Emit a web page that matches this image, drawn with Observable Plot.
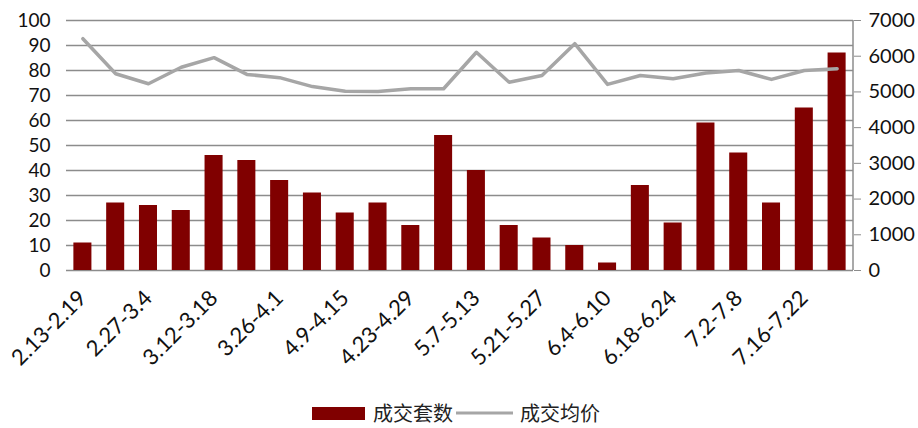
<!DOCTYPE html>
<html><head><meta charset="utf-8">
<script src="https://cdn.jsdelivr.net/npm/d3@7"></script>
<script src="https://cdn.jsdelivr.net/npm/@observablehq/plot@0.6"></script>
<style>
body{margin:0;background:#fff;}
#legend{display:flex;justify-content:center;align-items:center;height:30px;font-size:20px;line-height:24px;font-family:"Noto Sans CJK SC",sans-serif;color:#222;padding-right:6px;}
#legend span{display:inline-flex;align-items:center;}
</style></head><body>
<div id="chart"></div>
<div id="legend"></div>
<script>
const weeks = ["2.13-2.19","2.20-2.26","2.27-3.4","3.5-3.11","3.12-3.18","3.19-3.25","3.26-4.1","4.2-4.8","4.9-4.15","4.16-4.22","4.23-4.29","4.30-5.6","5.7-5.13","5.14-5.20","5.21-5.27","5.28-6.3","6.4-6.10","6.11-6.17","6.18-6.24","6.25-7.1","7.2-7.8","7.9-7.15","7.16-7.22","7.23-7.29"];
const units = [11,27,26,24,46,44,36,31,23,27,18,54,40,18,13,10,3,34,19,59,47,27,65,87];
const prices = [6490,5510,5230,5690,5960,5490,5400,5150,5020,5010,5090,5090,6110,5270,5460,6350,5210,5460,5370,5530,5600,5350,5600,5650];
const leftTicks = d3.range(0,101,10);
const rightTicks = d3.range(0,7001,1000);
const shownLabels = weeks.filter((d,i)=>i%2===0);
const seriesNames = ["成交套数","成交均价"];
const RATIO = 70;
const data = weeks.map((w,i)=>({week:w, units:units[i], price:prices[i]}));

const plot = Plot.plot({
  width:918, height:398, marginLeft:66, marginRight:65, marginTop:20, marginBottom:128,
  style:{fontFamily:"Lato, sans-serif", fontSize:"19px", color:"#111", background:"#fff"},
  x:{domain:weeks, paddingInner:0.45, paddingOuter:0.225, round:false, axis:null},
  y:{domain:[0,100], axis:null},
  marks:[
    Plot.ruleY(leftTicks,{stroke:"#8c8c8c", strokeWidth:1.5}),
    Plot.barY(data,{x:"week", y:"units", fill:"#800000"}),
    Plot.lineY(data,{x:"week", y:d=>d.price/RATIO, stroke:"#a6a6a6", strokeWidth:3.5}),
    Plot.axisY(leftTicks,{anchor:"left", tickSize:0, tickPadding:16, label:null}),
    Plot.axisY(rightTicks.map(v=>v/RATIO),{anchor:"right", tickSize:7, tickPadding:8, tickFormat:d=>String(Math.round(d*RATIO)), label:null, stroke:"#8c8c8c", fontSize:20}),
    Plot.axisX(shownLabels,{tickRotate:-45, tickSize:0, tickPadding:24, label:null, fontSize:22}),
    (index, scales, values, dims) => {
      const x = dims.width - dims.marginRight;
      return d3.create("svg:line").attr("x1",x).attr("x2",x)
        .attr("y1",dims.marginTop).attr("y2",dims.height-dims.marginBottom)
        .attr("stroke","#8c8c8c").attr("stroke-width",1.5).node();
    }
  ]
});
document.getElementById("chart").appendChild(plot);

const legend = document.getElementById("legend");
legend.innerHTML =
  `<span><svg width="53" height="13" style="margin-right:8px"><rect width="53" height="13" fill="#800000"/></svg>${seriesNames[0]}</span>` +
  `<span style="margin-left:3px"><svg width="57" height="14" style="margin-right:7px"><line x1="0" x2="57" y1="7" y2="7" stroke="#a6a6a6" stroke-width="3"/></svg>${seriesNames[1]}</span>`;
</script>
</body></html>
